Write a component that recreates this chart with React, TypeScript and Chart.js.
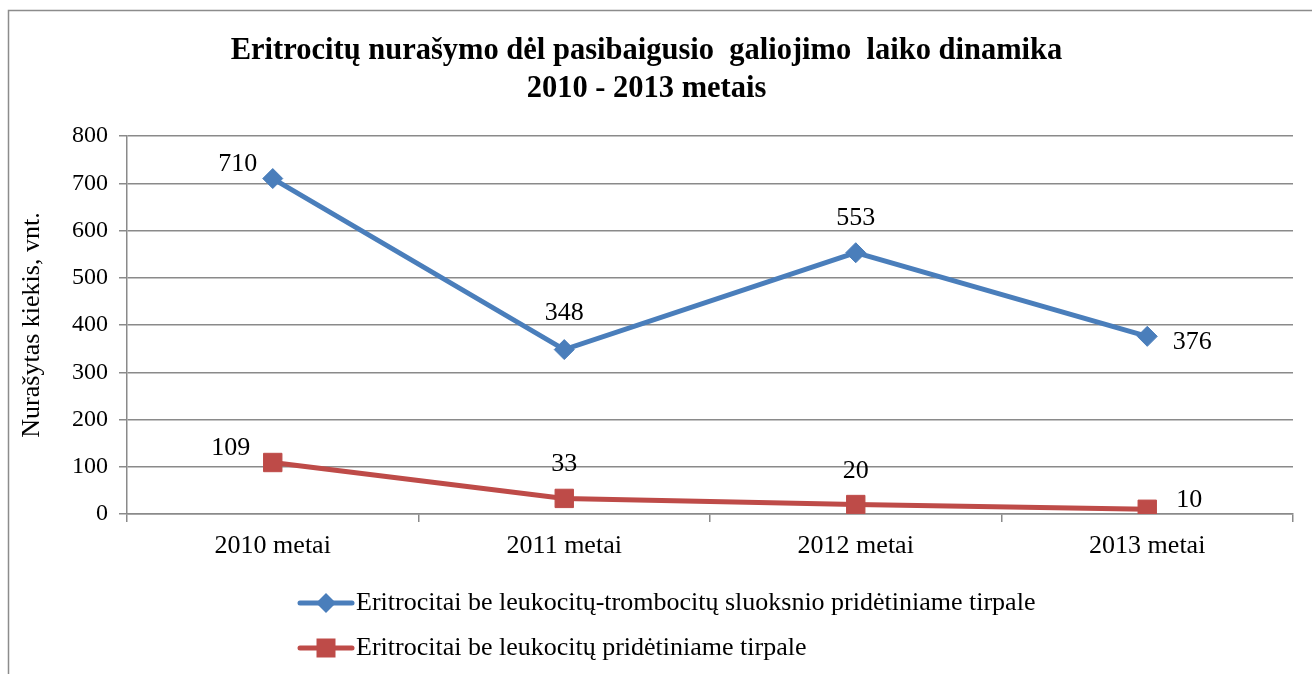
import React, { useEffect, useRef } from "react";
import { Chart, registerables } from "chart.js";

Chart.register(...registerables);

const categories = ["2010 metai", "2011 metai", "2012 metai", "2013 metai"];
const seriesNames = [
  "Eritrocitai be leukocitų-trombocitų sluoksnio pridėtiniame tirpale",
  "Eritrocitai be leukocitų pridėtiniame tirpale",
];
const blueValues = [710, 348, 553, 376];
const redValues = [109, 33, 20, 10];
const yMin = 0;
const yMax = 800;
const yStep = 100;
const titleLines = [
  "Eritrocitų nurašymo dėl pasibaigusio  galiojimo  laiko dinamika",
  "2010 - 2013 metais",
];
const yAxisTitle = "Nurašytas kiekis, vnt.";

const FONT = '"Liberation Serif", "Times New Roman", serif';
const BLUE = "#4A7EBB";
const RED = "#BE4B48";
const GRID = "#8a8a8a";

// label offsets (style only) per series, per point
const labelOffsets = [
  [[-35, -14], [0, -36], [0, -35], [45, 6]],
  [[-42, -14], [0, -34], [0, -33], [42, -9]],
];

const framePlugin = {
  id: "frame",
  beforeDraw(chart: any) {
    const ctx = chart.ctx;
    ctx.save();
    ctx.fillStyle = "#ffffff";
    ctx.fillRect(0, 0, chart.width, chart.height);
    ctx.strokeStyle = "#8c8c8c";
    ctx.lineWidth = 1.5;
    ctx.beginPath();
    ctx.moveTo(8.5, chart.height);
    ctx.lineTo(8.5, 10.5);
    ctx.lineTo(chart.width, 10.5);
    ctx.stroke();
    ctx.restore();
  },
};

const dataLabelPlugin = {
  id: "dataLabels",
  afterDatasetsDraw(chart: any) {
    const ctx = chart.ctx;
    ctx.save();
    ctx.font = `26px ${FONT}`;
    ctx.fillStyle = "#000";
    ctx.textAlign = "center";
    ctx.textBaseline = "middle";
    chart.data.datasets.forEach((ds: any, di: number) => {
      const meta = chart.getDatasetMeta(di);
      meta.data.forEach((pt: any, i: number) => {
        const [dx, dy] = labelOffsets[di][i];
        ctx.fillText(String(ds.data[i]), pt.x + dx, pt.y + dy);
      });
    });
    ctx.restore();
  },
};

const legendPlugin = {
  id: "customLegend",
  afterDraw(chart: any) {
    const ctx = chart.ctx;
    ctx.save();
    const x0 = 300;
    const rows = [603, 648];
    chart.data.datasets.forEach((ds: any, di: number) => {
      const y = rows[di];
      ctx.strokeStyle = ds.borderColor;
      ctx.lineWidth = 5;
      ctx.lineCap = "round";
      ctx.beginPath();
      ctx.moveTo(x0, y);
      ctx.lineTo(x0 + 52, y);
      ctx.stroke();
      ctx.fillStyle = ds.pointBackgroundColor;
      ctx.beginPath();
      const cx = x0 + 26;
      if (ds.pointStyle === "rectRot") {
        const r = 10;
        ctx.moveTo(cx, y - r);
        ctx.lineTo(cx + r, y);
        ctx.lineTo(cx, y + r);
        ctx.lineTo(cx - r, y);
        ctx.closePath();
      } else {
        ctx.rect(cx - 9.5, y - 9.5, 19, 19);
      }
      ctx.fill();
      ctx.fillStyle = "#000";
      ctx.font = `26px ${FONT}`;
      ctx.textAlign = "left";
      ctx.textBaseline = "middle";
      ctx.fillText(ds.label, x0 + 56, y);
    });
    ctx.restore();
  },
};

export default function App() {
  const ref = useRef<HTMLCanvasElement | null>(null);
  useEffect(() => {
    if (!ref.current) return;
    const chart = new Chart(ref.current, {
      type: "line",
      data: {
        labels: categories,
        datasets: [
          {
            label: seriesNames[0],
            data: blueValues,
            borderColor: BLUE,
            backgroundColor: BLUE,
            pointBackgroundColor: BLUE,
            pointBorderColor: BLUE,
            pointStyle: "rectRot",
            pointRadius: 10,
            pointBorderWidth: 1,
            borderWidth: 5,
            tension: 0,
          },
          {
            label: seriesNames[1],
            data: redValues,
            borderColor: RED,
            backgroundColor: RED,
            pointBackgroundColor: RED,
            pointBorderColor: RED,
            pointStyle: "rect",
            pointRadius: 13,
            pointBorderWidth: 1,
            borderWidth: 5,
            tension: 0,
          },
        ],
      },
      options: {
        responsive: false,
        animation: false,
        layout: { padding: { left: 0, right: 19, top: 0, bottom: 100 } },
        plugins: {
          legend: { display: false },
          tooltip: { enabled: false },
          title: {
            display: true,
            text: titleLines,
            color: "#000",
            font: { family: FONT, size: 30.5, weight: "bold", lineHeight: 1.22 },
            padding: { top: 33, bottom: 28.6 },
          },
        },
        scales: {
          x: {
            offset: true,
            grid: {
              offset: true,
              drawOnChartArea: false,
              drawTicks: true,
              tickLength: 8,
              color: GRID,
              lineWidth: 1.5,
            },
            border: { display: true, color: GRID, width: 1.5 },
            ticks: {
              color: "#000",
              font: { family: FONT, size: 26 },
              padding: 9,
              maxRotation: 0,
            },
            afterFit(scale: any) {
              scale.height = 60;
            },
          },
          y: {
            min: yMin,
            max: yMax,
            ticks: {
              stepSize: yStep,
              color: "#000",
              font: { family: FONT, size: 24 },
              padding: 11,
            },
            grid: {
              color: GRID,
              lineWidth: 1.5,
              drawTicks: true,
              tickLength: 8,
            },
            border: { display: true, color: GRID, width: 1.5 },
            title: {
              display: true,
              text: yAxisTitle,
              color: "#000",
              font: { family: FONT, size: 26 },
              padding: { top: 17, bottom: 0 },
            },
            afterFit(scale: any) {
              scale.width = 127;
            },
          },
        },
      },
      plugins: [framePlugin, dataLabelPlugin, legendPlugin],
    });
    return () => chart.destroy();
  }, []);
  return (
    <div style={{ position: "fixed", left: 0, top: 0, width: 1312, height: 674 }}>
      <canvas ref={ref} width={1312} height={674} style={{ display: "block" }} />
    </div>
  );
}
